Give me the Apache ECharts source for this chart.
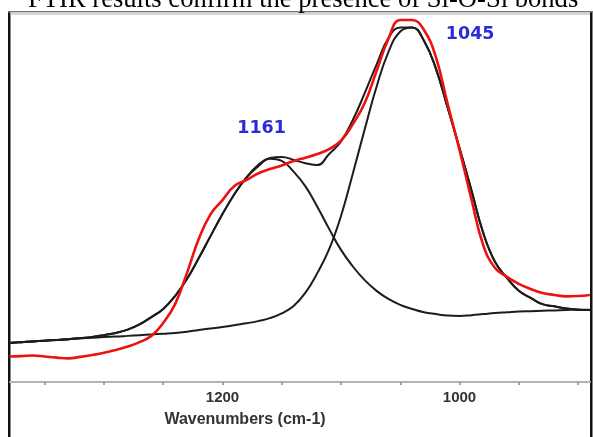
<!DOCTYPE html>
<html><head><meta charset="utf-8">
<script src="https://cdn.jsdelivr.net/npm/echarts@6/dist/echarts.min.js"></script>
<style>html,body{margin:0;padding:0;background:#fff}#c{width:593px;height:437px}</style>
</head><body><div id="c"></div>
<script>
// Wavenumbers (cm-1), from high to low
const wavenumbers = [1380,1370,1360,1350,1340,1330,1320,1310,1300,1290,1280,1270,1260,1250,1240,1230,1220,1210,1200,1190,1180,1170,1160,1150,1140,1130,1120,1110,1100,1090,1080,1070,1060,1050,1040,1030,1020,1010,1000,990,980,970,960,950,940,930,920,910,900,890];
// Measured spectrum (red)
const measured = [6.9,7.0,7.2,6.9,6.6,6.4,6.8,7.3,7.9,8.7,9.6,10.8,12.5,16.0,21.1,29.5,38.8,45.5,49.3,53.1,54.7,56.5,57.7,58.7,59.9,60.8,61.8,63.1,65.4,69.9,75.6,84.3,93.0,98.1,98.1,95.4,88.1,75.3,62.9,49.6,37.1,30.9,28.5,26.6,25.2,24.1,23.6,23.2,23.3,23.6];
// Fitted envelope (black)
const fitSum = [10.6,10.8,11.0,11.2,11.4,11.6,11.9,12.2,12.7,13.3,14.2,15.6,17.6,19.8,23.3,27.9,33.6,39.6,45.5,50.9,55.3,58.8,60.7,61.0,60.2,59.3,58.8,61.8,65.2,71.0,78.3,86.0,93.2,96.1,96.1,92.5,85.0,74.3,63.4,52.0,40.4,32.5,28.2,24.7,22.8,21.1,20.5,19.9,19.6,19.5];
// Component peak at 1161 (black)
const peak1161 = [10.6,10.8,11.0,11.2,11.4,11.6,11.9,12.2,12.7,13.3,14.2,15.6,17.6,19.8,23.3,27.9,33.6,39.6,45.5,50.9,55.3,58.4,60.5,59.9,57.0,53.0,47.5,41.5,35.8,31.3,27.6,24.7,22.5,20.9,19.8,18.9,18.4,18.0,17.9,18.1,18.4,18.7,18.9,19.1,19.2,19.3,19.4,19.5,19.6,19.6];
// Component peak at 1045 (black)
const peak1045 = [10.6,10.8,11.0,11.2,11.4,11.6,11.8,12.0,12.2,12.3,12.5,12.7,12.9,13.1,13.3,13.6,14.1,14.5,14.9,15.4,15.9,16.5,17.3,18.6,20.6,24.2,29.5,36.0,45.0,56.5,68.5,80.0,89.4,95.0,96.1,92.5,85.0,74.3,63.4,52.0,40.4,32.5,28.2,24.7,22.8,21.1,20.5,19.9,19.6,19.5];
// Axis ticks and labels
const tickValues = [1350,1300,1250,1200,1150,1100,1050,1000,950,900];
const labelValues = [1200,1000];
const peakNames = ['1161','1045'];

function pairs(ys){ return wavenumbers.map((x,i)=>[x, ys[i]]); }
function lineSeries(name, ys, color, width){
  return {name, type:'line', data:pairs(ys), smooth:0.45, showSymbol:false, clip:true,
    lineStyle:{color, width}, itemStyle:{color}, z:2};
}
const chart = echarts.init(document.getElementById('c'), null, {renderer:'canvas'});
const sumSeries = lineSeries('Fit', fitSum, '#1c1c1c', 2);
sumSeries.markPoint = {
  symbol:'circle', symbolSize:1, itemStyle:{color:'rgba(0,0,0,0)'},
  label:{show:true, position:'inside', formatter:'{b}', fontFamily:'DejaVu Sans', fontWeight:'bold', fontSize:17.5, color:'#2b2bd8'},
  data:[{name:peakNames[0], coord:[1167, 68.8]}, {name:peakNames[1], coord:[991, 94.3]}]
};
const option = {
  animation:false,
  backgroundColor:'#fff',
  title:{text:'FTIR results confirm the presence of Si-O-Si bonds', left:28, top:-13, padding:0,
    textStyle:{fontFamily:'Liberation Serif', fontSize:26.6, fontWeight:'normal', color:'#000'}},
  grid:{left:10, right:3, top:13, bottom:55},
  xAxis:{type:'value', inverse:true, min:889.9, max:1379.3,
    axisLine:{lineStyle:{color:'#b4b4b4', width:2}},
    axisTick:{customValues:tickValues, length:3, lineStyle:{color:'#8a8a8a', width:1.5}},
    axisLabel:{customValues:labelValues, formatter:(v)=>String(v), margin:8, fontFamily:'Liberation Sans', fontWeight:'bold', fontSize:15, color:'#333'},
    splitLine:{show:false},
    name:'Wavenumbers (cm-1)', nameLocation:'middle', nameGap:30,
    nameTextStyle:{fontFamily:'Liberation Sans', fontWeight:'bold', fontSize:16, color:'#333', padding:[0,110,0,0]}},
  yAxis:{type:'value', min:0, max:100, show:false},
  graphic:[
    {type:'rect', shape:{x:8, y:11, width:2.5, height:426}, style:{fill:'#111'}, silent:true},
    {type:'rect', shape:{x:590, y:11, width:2.5, height:426}, style:{fill:'#111'}, silent:true},
    {type:'rect', shape:{x:8, y:11, width:585, height:1.5}, style:{fill:'#7a7a7a'}, silent:true},
    {type:'rect', shape:{x:10.5, y:12.5, width:579.5, height:2.5}, style:{fill:'#d6d6d6'}, silent:true}
  ],
  series:[
    lineSeries('Peak 1161', peak1161, '#1c1c1c', 2),
    lineSeries('Peak 1045', peak1045, '#1c1c1c', 2),
    sumSeries,
    Object.assign(lineSeries('Measured', measured, '#ee1111', 2.6), {z:3})
  ]
};
chart.setOption(option);
</script>
</body></html>
